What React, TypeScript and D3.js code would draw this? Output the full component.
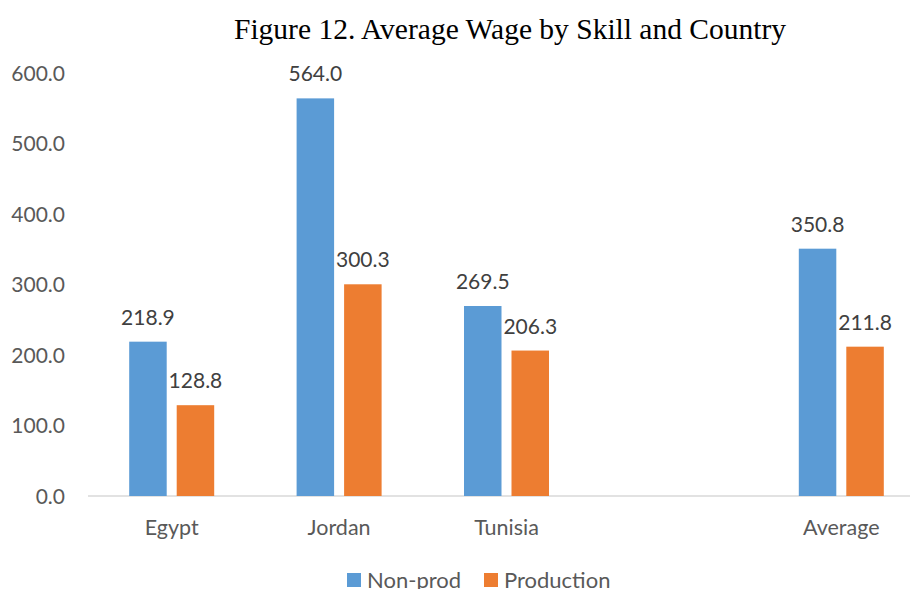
import React from "react";
import * as d3 from "d3";

const categories = ["Egypt", "Jordan", "Tunisia", "", "Average"];
const nonProd = [218.9, 564.0, 269.5, null, 350.8];
const production = [128.8, 300.3, 206.3, null, 211.8];
const seriesNames = ["Non-prod", "Production"];
const yTicks = [0, 100, 200, 300, 400, 500, 600];

const W = 910;
const H = 589;
const colors = ["#5B9BD5", "#ED7D31"];

export default function App() {
  const x = d3.scaleBand<string>().domain(categories.map((c, i) => String(i))).range([88, 925]);
  const y = d3.scaleLinear().domain([0, 600]).range([496, 73]);
  const barW = 37.5;
  const gap = 10;
  const series = [nonProd, production];
  const font = "Lato, 'Open Sans', sans-serif";

  return (
    <svg width={W} height={H} style={{ position: "absolute", left: 0, top: 0, background: "#fff" }}>
      <text x={510} y={39} textAnchor="middle" fontFamily="'Liberation Serif', 'Times New Roman', serif" fontSize={29.5} fill="#000">
        Figure 12. Average Wage by Skill and Country
      </text>
      {yTicks.map((t) => (
        <text key={t} x={65} y={y(t) + 7.5} textAnchor="end" fontFamily={font} fontSize={21} fill="#595959">
          {t.toFixed(1)}
        </text>
      ))}
      <line x1={88} x2={925} y1={y(0)} y2={y(0)} stroke="#D9D9D9" strokeWidth={1.3} />
      {categories.map((c, i) => {
        const cx = (x(String(i)) as number) + x.bandwidth() / 2;
        return (
          <g key={i}>
            {series.map((s, si) => {
              const v = s[i];
              if (v == null) return null;
              const bx = si === 0 ? cx - gap / 2 - barW : cx + gap / 2;
              return (
                <g key={si}>
                  <rect x={bx} y={y(v)} width={barW} height={y(0) - y(v)} fill={colors[si]} />
                  <text x={bx + barW / 2} y={y(v) - 17} textAnchor="middle" fontFamily={font} fontSize={21} fill="#404040">
                    {v.toFixed(1)}
                  </text>
                </g>
              );
            })}
            {c && (
              <text x={cx} y={535} textAnchor="middle" fontFamily={font} fontSize={21.5} fill="#595959">
                {c}
              </text>
            )}
          </g>
        );
      })}
      {seriesNames.map((n, i) => {
        const lx = i === 0 ? 347 : 484;
        return (
          <g key={n}>
            <rect x={lx} y={573} width={14} height={14} fill={colors[i]} />
            <text x={lx + 20} y={588} fontFamily={font} fontSize={22} fill="#595959">
              {n}
            </text>
          </g>
        );
      })}
    </svg>
  );
}
